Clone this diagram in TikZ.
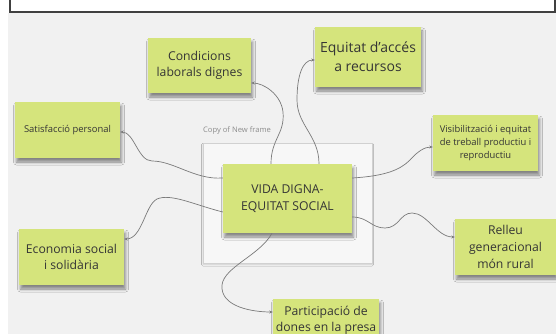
\documentclass[tikz,border=0pt]{standalone}
\usepackage{fontspec}
\setmainfont{Open Sans}
\usetikzlibrary{shadows.blur,arrows.meta}
\definecolor{bgc}{HTML}{F1F1F1}
\definecolor{notec}{HTML}{D5E47C}
\definecolor{inkc}{HTML}{353535}
\definecolor{connc}{HTML}{7A7A7A}
\newcommand\fbig{\fontsize{14}{19}\selectfont}
\newcommand\fmid{\fontsize{12.2}{16.6}\selectfont}
\newcommand\fsml{\fontsize{9.4}{13}\selectfont}
\begin{document}
\begin{tikzpicture}[x=1pt,y=-1pt,
  notebox/.style={fill=notec, draw=none, inner sep=0pt, align=center, text=inkc, font=\fmid,
    blur shadow={shadow xshift=1.5pt, shadow yshift=-4pt, shadow blur radius=3pt, shadow opacity=45}},
  link/.style={draw=connc, line width=0.7pt, -{Stealth[length=3.5pt,width=3pt]}},
  framebox/.style={draw=black!18, line width=0.8pt, fill=white!40!bgc,
    blur shadow={shadow xshift=0pt, shadow yshift=-1.5pt, shadow blur radius=1.5pt, shadow opacity=15}}]
\useasboundingbox (0,0) rectangle (556,334);
\clip (0,0) rectangle (556,334);
% background
\fill[bgc] (8,13) rectangle (556,334);
\draw[black!75, line width=1.5pt, fill=white] (10,-5) rectangle (555,12);
% frame
\node[framebox, minimum width=169pt, minimum height=120pt, inner sep=0pt] (frame) at (287.5,203) {};
\node[anchor=west, inner sep=0pt, text=black!45, font=\fontsize{7.6}{9}\selectfont] (flabel) at (203,131) {Copy of New frame};
% notes
\node[notebox, minimum width=129pt, minimum height=69pt] (vida) at (287.5,198.5) {VIDA DIGNA-\\EQUITAT SOCIAL};
\node[notebox, minimum width=103pt, minimum height=55pt] (cond) at (199.5,65.5) {Condicions\\laborals dignes};
\node[notebox, minimum width=106pt, minimum height=60pt, font=\fbig] (equi) at (368,57) {Equitat d’accés\\a recursos};
\node[notebox, minimum width=105pt, minimum height=56pt, font=\fsml] (sat) at (67.5,130) {Satisfacció personal};
\node[notebox, minimum width=105pt, minimum height=56pt, font=\fsml] (vis) at (485.5,143) {Visibilització i equitat\\de treball productiu i\\reproductiu};
\node[notebox, minimum width=105pt, minimum height=56pt] (eco) at (71.5,257) {Economia social\\i solidària};
\node[notebox, minimum width=101pt, minimum height=56pt] (rel) at (505.5,247) {Relleu\\generacional\\món rural};
\node[notebox, minimum width=106pt, minimum height=56pt] (part) at (326,327) {Participació de\\dones en la presa\\\mbox{}};
% connectors
\draw[link] ([xshift=-16.5pt]vida.north) .. controls +(0,-25) and +(2,22) .. (283,112) .. controls +(-2,-18) and +(12,0) .. ([yshift=-17.5pt]cond.east);
\draw[link] ([xshift=31.5pt]vida.north) .. controls +(0,-28) and +(0,25) .. (297,100) .. controls +(0,-25) and +(-12,0) .. ([yshift=-3pt]equi.west);
\draw[link] ([yshift=20.5pt]vida.west) .. controls +(-28,2) and +(22,0) .. (152,161) .. controls +(-14,0) and +(14,0) .. ([yshift=-2pt]sat.east);
\draw[link] ([yshift=-13.5pt]vida.west) .. controls +(-28,-7) and +(14,-6) .. (157,199) .. controls +(-12,6) and +(18,0) .. ([yshift=18pt]eco.east);
\draw[link] ([yshift=20.5pt]vida.east) .. controls +(33,-2) and +(-10,10) .. (410,160) .. controls +(8,-9) and +(-8,0) .. ([yshift=-4pt]vis.west);
\draw[link] ([yshift=-18.5pt]vida.east) .. controls +(16,0) and +(-14,0) .. (385,228) .. controls +(14,0) and +(-12,0) .. (412,213) .. controls +(15,0) and +(-18,0) .. ([yshift=10pt]rel.west);
\draw[link] ([xshift=-15.5pt]vida.south) .. controls +(-12,22) and +(2,-18) .. (222,285) .. controls +(-2,22) and +(-20,0) .. ([yshift=15pt]part.west);
\end{tikzpicture}
\end{document}
